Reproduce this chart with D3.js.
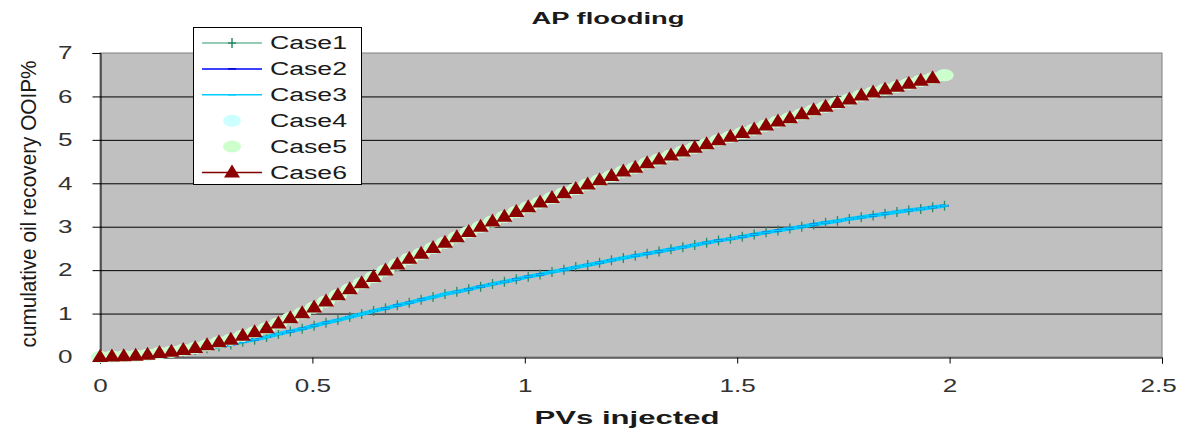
<!DOCTYPE html>
<html>
<head>
<meta charset="utf-8">
<script src="https://cdn.jsdelivr.net/npm/d3@7"></script>
<style>
	body { margin: 0; background: #fff; }
	svg { display: block; }
	text { font-family: "Liberation Sans", Arial, sans-serif; }
</style>
</head>
<body>
<svg id="chart" width="1180" height="429"></svg>
<script>
// pore volumes injected (shared time steps of the runs)
const pvInjected = [0, 0.028, 0.056, 0.084, 0.112, 0.14, 0.168, 0.196, 0.224, 0.252,
	0.28, 0.308, 0.336, 0.364, 0.392, 0.42, 0.448, 0.476, 0.504, 0.532,
	0.56, 0.588, 0.616, 0.644, 0.672, 0.7, 0.728, 0.756, 0.784, 0.812,
	0.84, 0.868, 0.896, 0.924, 0.952, 0.98, 1.008, 1.036, 1.064, 1.092,
	1.12, 1.148, 1.176, 1.204, 1.232, 1.26, 1.288, 1.316, 1.344, 1.372,
	1.4, 1.428, 1.456, 1.484, 1.512, 1.54, 1.568, 1.596, 1.624, 1.652,
	1.68, 1.708, 1.736, 1.764, 1.792, 1.82, 1.848, 1.876, 1.904, 1.932,
	1.96, 1.988];

// cumulative recovery, cases 1-3
const recoveryLow = [0, 0.01, 0.02, 0.03, 0.04, 0.07, 0.09, 0.12, 0.16, 0.20,
	0.24, 0.29, 0.35, 0.40, 0.46, 0.53, 0.59, 0.65, 0.72, 0.79,
	0.85, 0.92, 0.99, 1.06, 1.12, 1.19, 1.25, 1.32, 1.38, 1.45,
	1.50, 1.56, 1.62, 1.68, 1.73, 1.79, 1.85, 1.90, 1.96, 2.01,
	2.07, 2.12, 2.17, 2.23, 2.28, 2.33, 2.38, 2.43, 2.48, 2.53,
	2.58, 2.63, 2.68, 2.72, 2.77, 2.82, 2.87, 2.91, 2.96, 3.00,
	3.05, 3.09, 3.13, 3.18, 3.22, 3.26, 3.30, 3.34, 3.38, 3.41,
	3.45, 3.48];

// cumulative recovery, cases 4-6
const recoveryHigh = [0, 0.01, 0.02, 0.03, 0.05, 0.09, 0.12, 0.16, 0.21, 0.27,
	0.34, 0.40, 0.49, 0.57, 0.66, 0.77, 0.89, 1.01, 1.14, 1.28,
	1.42, 1.56, 1.70, 1.84, 1.99, 2.13, 2.26, 2.38, 2.51, 2.63,
	2.76, 2.88, 3.00, 3.12, 3.23, 3.34, 3.45, 3.56, 3.66, 3.77,
	3.87, 3.97, 4.07, 4.17, 4.27, 4.36, 4.46, 4.55, 4.64, 4.73,
	4.82, 4.90, 4.99, 5.07, 5.16, 5.24, 5.33, 5.42, 5.50, 5.59,
	5.68, 5.76, 5.85, 5.93, 6.02, 6.09, 6.16, 6.22, 6.29, 6.36,
	6.42, 6.49];

const caseNames = ["Case1", "Case2", "Case3", "Case4", "Case5", "Case6"];
const caseValues = [recoveryLow, recoveryLow, recoveryLow, recoveryHigh, recoveryHigh, recoveryHigh];
const casePoints = [72, 72, 72, 72, 72, 71];

const xTicks = [0, 0.5, 1, 1.5, 2, 2.5];
const yTicks = [0, 1, 2, 3, 4, 5, 6, 7];

// drawing styles per case
const styles = [
	{ line: "#2e9a6e", width: 1.2, marker: "plus", mcolor: "#2e8a66" },
	{ line: "#0000ff", width: 1.5, marker: "dash", mcolor: "#0000cc" },
	{ line: "#00ccff", width: 4, marker: "dash", mcolor: "#00ccff" },
	{ line: null, width: 0, marker: "blob", mcolor: "#ccffff" },
	{ line: null, width: 0, marker: "blob", mcolor: "#ccffcc" },
	{ line: "#800000", width: 1.5, marker: "tri", mcolor: "#8b0000" }
];

const markerPath = {
	plus: "M0,-5V5M-4,0H4",
	dash: "M-4,0H4",
	blob: "M-9,0a9,6 0 1,0 18,0a9,6 0 1,0 -18,0Z",
	tri: "M0,-8L8,5L-8,5Z"
};

const SX = 1.45; // horizontal text stretch

const svg = d3.select("#chart");

const x = d3.scaleLinear().domain([0, 2.5]).range([100, 1162]);
const y = d3.scaleLinear().domain([0, 7]).range([357, 53]);

// plot area
svg.append("rect")
	.attr("x", x(0)).attr("y", y(7))
	.attr("width", x(2.5) - x(0)).attr("height", y(0) - y(7))
	.attr("fill", "#c0c0c0")
	.attr("stroke", "#808080");

svg.append("g")
	.selectAll("line")
	.data(yTicks.filter(d => d > 0 && d < 7))
	.join("line")
	.attr("x1", x(0)).attr("x2", x(2.5))
	.attr("y1", d => y(d) + 0.5).attr("y2", d => y(d) + 0.5)
	.attr("stroke", "#000");

// axes
const xAxis = svg.append("g")
	.attr("transform", `translate(0,${y(0) + 0.5})`)
	.call(d3.axisBottom(x).tickValues(xTicks).tickSize(6).tickFormat(d3.format("")));
xAxis.select(".domain").attr("stroke", "#000");
xAxis.selectAll("text")
	.attr("y", 35).attr("dy", 0)
	.attr("transform", `scale(${SX},1)`)
	.attr("font-size", 18).attr("fill", "#333");
// keep the last label inside the frame
xAxis.selectAll(".tick").filter(d => d === 2.5).select("text")
	.attr("x", -4 / SX);

const yAxis = svg.append("g")
	.attr("transform", `translate(${x(0) + 0.5},0)`)
	.call(d3.axisLeft(y).tickValues(yTicks).tickSize(8).tickFormat(d3.format("d")));
yAxis.select(".domain").attr("stroke", "#000");
yAxis.selectAll("text")
	.attr("x", -28 / SX)
	.attr("transform", `scale(${SX},1)`)
	.attr("font-size", 18).attr("fill", "#333");
svg.selectAll(".tick line").attr("stroke", "#000");

// series
const line = d3.line().x(d => x(d[0])).y(d => y(d[1]));
const series = caseNames.map((name, i) => ({
	name,
	style: styles[i],
	points: d3.zip(pvInjected.slice(0, casePoints[i]), caseValues[i].slice(0, casePoints[i]))
}));

svg.append("g").selectAll("path")
	.data(series.filter(s => s.style.line))
	.join("path")
	.attr("d", s => line(s.points))
	.attr("fill", "none")
	.attr("stroke", s => s.style.line)
	.attr("stroke-width", s => s.style.width);

for (const s of series) {
	const filled = s.style.marker === "blob" || s.style.marker === "tri";
	svg.append("g").selectAll("path")
		.data(s.points)
		.join("path")
		.attr("d", markerPath[s.style.marker])
		.attr("transform", d => `translate(${x(d[0])},${y(d[1])})`)
		.attr("fill", filled ? s.style.mcolor : "none")
		.attr("stroke", filled ? "none" : s.style.mcolor)
		.attr("stroke-width", s.style.marker === "dash" ? 2 : 1.3);
}

// legend
const legend = svg.append("g");
legend.append("rect")
	.attr("x", 193.5).attr("y", 27.5)
	.attr("width", 168).attr("height", 157)
	.attr("fill", "#fff").attr("stroke", "#000");

const rows = legend.selectAll(".row")
	.data(series)
	.join("g")
	.attr("class", "row")
	.attr("transform", (d, i) => `translate(0,${43 + i * 25.9})`);

rows.filter(d => d.style.line)
	.append("line")
	.attr("x1", 202).attr("x2", 262)
	.attr("stroke", d => d.style.line)
	.attr("stroke-width", d => Math.min(d.style.width, 1.5));

rows.append("path")
	.attr("d", d => markerPath[d.style.marker])
	.attr("transform", "translate(232,0)")
	.attr("fill", d => (d.style.marker === "blob" || d.style.marker === "tri") ? d.style.mcolor : "none")
	.attr("stroke", d => (d.style.marker === "blob" || d.style.marker === "tri") ? "none" : d.style.mcolor)
	.attr("stroke-width", 1.5);

rows.append("text")
	.attr("x", 270).attr("dy", "0.36em")
	.attr("font-size", 18).attr("fill", "#1a1a1a")
	.attr("textLength", 77).attr("lengthAdjust", "spacingAndGlyphs")
	.text(d => d.name);

// titles
svg.append("text")
	.attr("x", 608).attr("y", 24)
	.attr("text-anchor", "middle")
	.attr("font-size", 16).attr("font-weight", "bold").attr("fill", "#1a1a1a")
	.attr("textLength", 153).attr("lengthAdjust", "spacingAndGlyphs")
	.text("AP flooding");

svg.append("text")
	.attr("x", 627).attr("y", 424)
	.attr("text-anchor", "middle")
	.attr("font-size", 18).attr("font-weight", "bold").attr("fill", "#1a1a1a")
	.attr("textLength", 185).attr("lengthAdjust", "spacingAndGlyphs")
	.text("PVs injected");

svg.append("text")
	.attr("transform", "translate(36,204) scale(1.25,1) rotate(-90)")
	.attr("text-anchor", "middle")
	.attr("font-size", 18).attr("fill", "#1a1a1a")
	.attr("textLength", 287).attr("lengthAdjust", "spacingAndGlyphs")
	.text("cumulative oil recovery OOIP%");
</script>
</body>
</html>
